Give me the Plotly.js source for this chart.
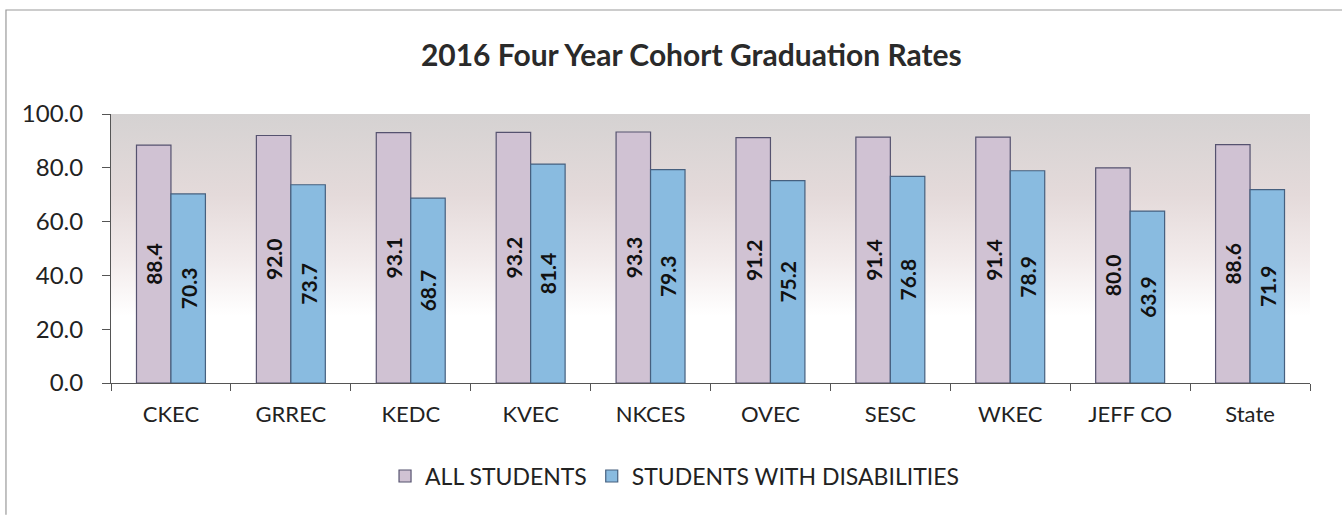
<!DOCTYPE html>
<html>
<head>
<meta charset="utf-8">
<script src="https://cdn.plot.ly/plotly-3.0.1.min.js"></script>
<style>html,body{margin:0;padding:0;background:#fff;}#chart{width:1342px;height:515px;}</style>
</head>
<body>
<div id="chart"></div>
<script>
const categories = ["CKEC", "GRREC", "KEDC", "KVEC", "NKCES", "OVEC", "SESC", "WKEC", "JEFF CO", "State"];
const allStudents = [88.4, 92.0, 93.1, 93.2, 93.3, 91.2, 91.4, 91.4, 80.0, 88.6];
const studentsWithDisabilities = [70.3, 73.7, 68.7, 81.4, 79.3, 75.2, 76.8, 78.9, 63.9, 71.9];
const seriesNames = ["ALL STUDENTS", "STUDENTS WITH DISABILITIES"];
const yTicks = [0, 20, 40, 60, 80, 100];

const FONT = "Lato, 'Open Sans', sans-serif";

const gradSvg = '<svg xmlns="http://www.w3.org/2000/svg" width="100" height="100" preserveAspectRatio="none">' +
  '<defs><linearGradient id="g" x1="0" y1="0" x2="0" y2="1">' +
  '<stop offset="0" stop-color="#d5d2d2"/>' +
  '<stop offset="0.3" stop-color="#e4dada"/>' +
  '<stop offset="0.55" stop-color="#f3ecec"/>' +
  '<stop offset="0.75" stop-color="#ffffff"/>' +
  '<stop offset="1" stop-color="#ffffff"/>' +
  '</linearGradient></defs><rect width="100" height="100" fill="url(#g)"/></svg>';
const gradUri = 'data:image/svg+xml;base64,' + btoa(gradSvg);

const textFont = {family: FONT, size: 21, color: "#111", weight: "bold"};

const traces = [
  {
    type: "bar", name: seriesNames[0], x: categories, y: allStudents,
    text: allStudents.map(v => v.toFixed(1)), textposition: "inside",
    insidetextanchor: "middle", textangle: -90, textfont: textFont,
    constraintext: "none",
    marker: {color: "#d0c2d3", line: {color: "#55526f", width: 1.2}},
    hoverinfo: "x+y"
  },
  {
    type: "bar", name: seriesNames[1], x: categories, y: studentsWithDisabilities,
    text: studentsWithDisabilities.map(v => v.toFixed(1)), textposition: "inside",
    insidetextanchor: "middle", textangle: -90, textfont: textFont,
    constraintext: "none",
    marker: {color: "#89bbe0", line: {color: "#46607f", width: 1.2}},
    hoverinfo: "x+y"
  }
];

const layout = {
  width: 1342, height: 515,
  margin: {l: 111, r: 32, t: 114, b: 132},
  paper_bgcolor: "#ffffff",
  plot_bgcolor: "rgba(0,0,0,0)",
  font: {family: FONT, color: "#222"},
  title: {
    text: "2016 Four Year Cohort Graduation Rates",
    font: {family: FONT, size: 30, color: "#2a2a2a", weight: "bold"},
    x: 0.484, xref: "paper", xanchor: "center",
    y: 1 - 55/515, yref: "container", yanchor: "middle"
  },
  barmode: "group",
  bargap: 0.425,
  bargroupgap: 0,
  uniformtext: {mode: false},
  showlegend: true,
  legend: {
    orientation: "h", x: 0.47, xanchor: "center", y: -0.346, yanchor: "middle",
    font: {family: FONT, size: 23, color: "#222"}, itemwidth: 30,
    traceorder: "normal", bgcolor: "rgba(0,0,0,0)"
  },
  xaxis: {
    type: "category",
    showline: true, linecolor: "#555", linewidth: 1,
    ticks: "outside", tickson: "boundaries", ticklen: 7, tickcolor: "#555",
    tickfont: {family: FONT, size: 22, color: "#222"},
    ticklabelstandoff: 12,
    showgrid: false, zeroline: false, fixedrange: true
  },
  yaxis: {
    range: [0, 100],
    tickvals: yTicks, ticktext: yTicks.map(v => v.toFixed(1)),
    showline: true, linecolor: "#555", linewidth: 1,
    ticks: "outside", ticklen: 8, tickcolor: "#555",
    tickfont: {family: FONT, size: 24, color: "#222"},
    ticklabelstandoff: 14,
    showgrid: false, zeroline: false, fixedrange: true
  },
  images: [{
    source: gradUri, xref: "paper", yref: "paper",
    x: 0, y: 1, sizex: 1, sizey: 1, sizing: "stretch",
    xanchor: "left", yanchor: "top", layer: "below"
  }],
  shapes: [{
    type: "path", xref: "paper", yref: "paper",
    path: "M -0.0876,-0.49 L -0.0876,1.3866 L 1.03,1.3866",
    line: {color: "#9a9a9a", width: 1.2}
  }]
};

Plotly.newPlot("chart", traces, layout, {displayModeBar: false, staticPlot: true});
</script>
</body>
</html>
